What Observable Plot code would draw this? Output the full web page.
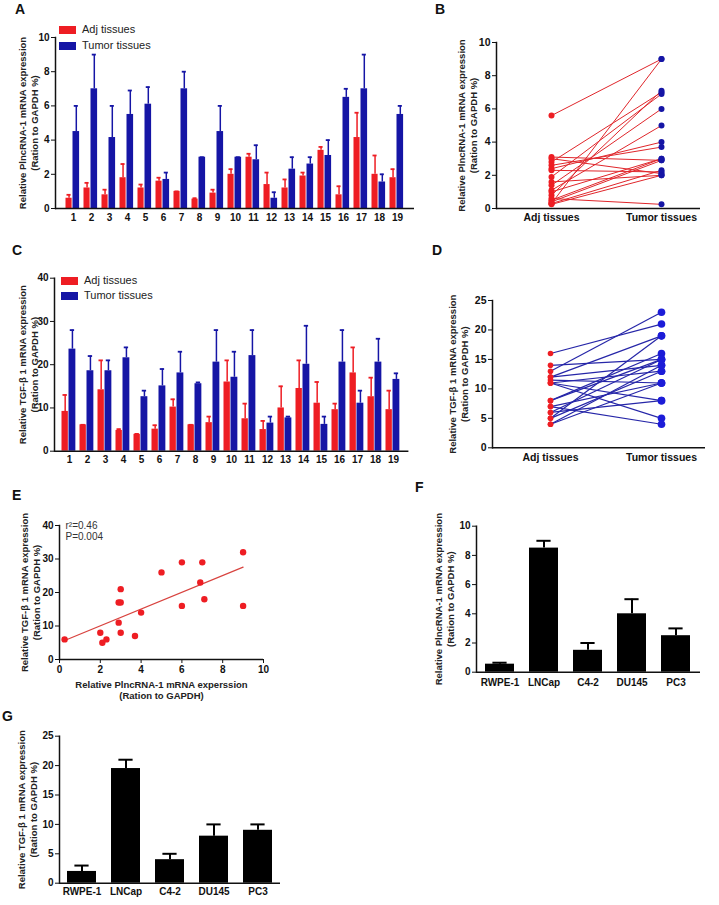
<!DOCTYPE html>
<html><head><meta charset="utf-8">
<script src="https://cdn.jsdelivr.net/npm/d3@7"></script>
<script src="https://cdn.jsdelivr.net/npm/@observablehq/plot@0.6"></script>
<style>
body{margin:0;background:#fff;}
#root{position:relative;width:719px;height:905px;overflow:hidden;background:#fff;font-family:'Liberation Sans',Arial,sans-serif;}
.panel{position:absolute;}
.panel svg{background:transparent;}
.letter{position:absolute;font-weight:bold;font-size:14px;line-height:14px;color:#111;}
.leg{position:absolute;font-size:11px;line-height:11px;white-space:nowrap;color:#222;}
.sw{position:absolute;width:17px;height:8px;}
</style></head><body><div id="root"></div>
<script>
// ---------- data ----------
const caseIds = ["1","2","3","4","5","6","7","8","9","10","11","12","13","14","15","16","17","18","19"];
const seriesNames = ["Adj tissues", "Tumor tissues"];

// Panel A: PlncRNA-1 per case
const plncAdj      = [0.6,1.2,0.8,1.8,1.2,1.6,1.0,0.55,0.9,2.0,3.0,1.4,1.2,1.9,3.4,0.8,4.15,2.0,1.8];
const plncAdjErr   = [0.2,0.3,0.3,0.8,0.2,0.2,0.0,0.05,0.2,0.3,0.2,0.7,0.5,0.2,0.2,0.5,1.45,1.1,0.5];
const plncTumor    = [4.5,7.0,4.15,5.5,6.1,1.7,7.0,3.0,4.5,3.0,2.85,0.6,2.3,2.6,3.1,6.5,7.0,1.55,5.5];
const plncTumorErr = [1.5,2.0,1.85,1.4,1.0,0.4,1.0,0.0,1.5,0.0,0.85,0.35,0.7,0.4,0.9,0.5,2.0,0.45,0.5];

// Panel B: paired PlncRNA-1
const pairPlncAdj   = [5.6,0.3,3.1,3.0,2.8,2.6,2.4,2.3,1.9,1.6,1.4,1.1,0.8,0.6,0.5,0.4,0.3,0.25,1.0];
const pairPlncTumor = [9.0,9.0,2.9,2.1,7.0,3.7,4.0,2.2,6.9,2.0,6.0,5.0,7.1,0.25,3.0,2.9,2.3,2.0,3.0];

// Panel C: TGF-beta1 per case
const tgfAdj      = [9.2,6.1,14.2,4.8,3.9,5.1,10.2,6.1,6.6,16.0,7.5,5.0,10.0,14.5,11.1,9.6,18.1,12.6,9.6];
const tgfAdjErr   = [3.8,0.0,6.8,0.3,0.1,0.9,1.8,0.0,1.4,5.0,3.5,2.0,5.0,6.5,4.9,1.4,5.9,4.4,4.4];
const tgfTumor    = [23.6,18.6,18.6,21.6,12.6,15.1,18.1,15.6,20.6,17.1,22.1,6.5,7.7,20.1,6.2,20.6,11.1,20.6,16.6];
const tgfTumorErr = [4.4,3.4,2.4,2.4,1.4,3.9,4.9,0.3,7.4,5.9,5.9,1.5,0.3,8.9,1.8,7.4,2.9,5.4,1.4];

// Panel D: paired TGF-beta1
const pairTgfAdj   = [16,14,13,12,12,11.5,11,11,11,8,8,7,7,6,6,5,5,4,4];
const pairTgfTumor = [21,15,23,14,19,11,8,5,13,16,15,11,4,15,8,19,13,14,11];

// Panel E: correlation
const corrPlnc = [0.25,2.0,2.1,2.3,2.9,2.9,3.0,3.0,3.0,3.7,4.0,5.0,6.0,6.0,6.9,7.0,7.1,9.0,9.0];
const corrTgf  = [6,8,5,6,11,17,17,21,8,7,14,26,29,16,23,29,18,32,16];
const corrStats = "r\u00b2=0.46\nP=0.004";

// Panels F, G: cell lines
const cellLines   = ["RWPE-1","LNCap","C4-2","DU145","PC3"];
const plncCell    = [0.55,8.5,1.5,4.0,2.5];
const plncCellErr = [0.1,0.5,0.5,1.0,0.5];
const tgfCell     = [2.0,19.5,4.0,8.0,9.0];
const tgfCellErr  = [1.0,1.5,1.0,2.0,1.0];

// tick labels
const ticksPlnc = [0,2,4,6,8,10];
const ticksTgf40 = [0,10,20,30,40];
const ticksTgf25 = [0,5,10,15,20,25];

// axis titles
const yLabPlnc = "Relative PlncRNA-1 mRNA expression\n(Ration to GAPDH %)";
const yLabTgf  = "Relative TGF-\u03b2 1 mRNA expression\n(Ration to GAPDH %)";
const xLabCorr = "Relative PlncRNA-1 mRNA experssion\n(Ration to GAPDH)";

// ---------- styling ----------
const RED = "#ee1d23", BLUE = "#1515a5", RED_LINE = "#e0262b", BLUE_LINE = "#2626a8", BLUE_DOT = "#1c1cd8";
const FONT = "'Liberation Sans', Arial, sans-serif";
const baseStyle = {fontFamily: FONT, fontSize: "10px", fontWeight: "bold", background: "transparent", overflow: "visible", color: "#111"};

const root = document.getElementById("root");
function place(el, left, top, w) {
  const d = document.createElement("div");
  d.className = "panel";
  d.style.left = left + "px"; d.style.top = top + "px"; d.style.width = w + "px";
  d.appendChild(el); root.appendChild(d);
}
function yTitle(text, dx) {
  return Plot.text([text], {text: d => d, frameAnchor: "left", textAnchor: "middle", rotate: -90, dx, lineAnchor: "middle",
    lineHeight: 1.25, fontSize: 9.5, fontWeight: "bold", fill: "#222"});
}

function pairedBars({adj, adjErr, tum, tumErr, yDomain, yTicks, width, height, mL, mR, mT, mB, step, label, ldx}) {
  const rows = caseIds.map((id, i) => ({id, adj: adj[i], adjTop: adj[i] + adjErr[i], tum: tum[i], tumTop: tum[i] + tumErr[i]}));
  return Plot.plot({
    width, height, marginLeft: mL, marginRight: mR, marginTop: mT, marginBottom: mB,
    style: baseStyle,
    x: {type: "band", domain: caseIds, padding: 0, tickSize: 0, tickPadding: 5, label: null},
    y: {domain: yDomain, ticks: yTicks, tickSize: 4, tickPadding: 2, label: null},
    marks: [
      Plot.ruleX(rows, {x: "id", y1: "adj", y2: "adjTop", dx: 5 - step / 2, stroke: RED, strokeWidth: 1.5}),
      Plot.tickY(rows, {x: "id", y: "adjTop", insetLeft: 2.5, insetRight: step - 7.5, stroke: RED, strokeWidth: 1.8}),
      Plot.ruleX(rows, {x: "id", y1: "tum", y2: "tumTop", dx: 12.25 - step / 2, stroke: BLUE, strokeWidth: 1.5}),
      Plot.tickY(rows, {x: "id", y: "tumTop", insetLeft: 9.75, insetRight: step - 14.75, stroke: BLUE, strokeWidth: 1.8}),
      Plot.barY(rows, {x: "id", y: "adj", insetLeft: 1.5, insetRight: step - 8.5, fill: RED}),
      Plot.barY(rows, {x: "id", y: "tum", insetLeft: 8.5, insetRight: step - 16, fill: BLUE}),
      Plot.frame({anchor: "left", strokeWidth: 1.5}),
      Plot.ruleY([0], {strokeWidth: 1.5}),
      yTitle(label, ldx)
    ]
  });
}

function pairedDots({adj, tum, yDomain, yTicks, width, height, mL, mR, mT, mB, xRange, lineColor, tumColor, rAdj, rTum, lw, label, ldx, pad}) {
  const rows = adj.map((a, i) => ({adj: a, tum: tum[i]}));
  return Plot.plot({
    width, height, marginLeft: mL, marginRight: mR, marginTop: mT, marginBottom: mB,
    style: {...baseStyle, fontSize: "10.5px"},
    x: {type: "point", domain: seriesNames, range: xRange, padding: 0, tickSize: 0, tickPadding: pad, label: null},
    y: {domain: yDomain, ticks: yTicks, tickSize: 4, tickPadding: 2, label: null},
    marks: [
      Plot.link(rows, {x1: () => seriesNames[0], y1: "adj", x2: () => seriesNames[1], y2: "tum", stroke: lineColor, strokeWidth: lw}),
      Plot.dot(rows, {x: () => seriesNames[0], y: "adj", r: rAdj, fill: RED}),
      Plot.dot(rows, {x: () => seriesNames[1], y: "tum", r: rTum, fill: tumColor}),
      Plot.frame({anchor: "left", strokeWidth: 1.5}),
      Plot.ruleY([0], {strokeWidth: 1.5}),
      yTitle(label, ldx)
    ]
  });
}

function cellBars({vals, errs, yDomain, yTicks, width, height, mL, mR, mT, mB, label, ldx, pad}) {
  const rows = cellLines.map((c, i) => ({c, v: vals[i], top: vals[i] + errs[i]}));
  return Plot.plot({
    width, height, marginLeft: mL, marginRight: mR, marginTop: mT, marginBottom: mB,
    style: baseStyle,
    x: {type: "band", domain: cellLines, paddingInner: 0.33, paddingOuter: 0.165, tickSize: 0, tickPadding: pad, label: null},
    y: {domain: yDomain, ticks: yTicks, tickSize: 4, tickPadding: 2, label: null},
    marks: [
      Plot.ruleX(rows, {x: "c", y1: "v", y2: "top", stroke: "#000", strokeWidth: 2}),
      Plot.tickY(rows, {x: "c", y: "top", inset: 7.4, stroke: "#000", strokeWidth: 2}),
      Plot.barY(rows, {x: "c", y: "v", fill: "#000"}),
      Plot.frame({anchor: "left", strokeWidth: 1.5}),
      Plot.ruleY([0], {strokeWidth: 1.5}),
      yTitle(label, ldx)
    ]
  });
}

// Panel A
place(pairedBars({adj: plncAdj, adjErr: plncAdjErr, tum: plncTumor, tumErr: plncTumorErr,
  yDomain: [0, 10], yTicks: ticksPlnc, width: 440, height: 230, mL: 55, mR: 26, mT: 37, mB: 22,
  step: 18.9, label: yLabPlnc, ldx: -27.7}), 0, 0, 440);

// Panel B
place(pairedDots({adj: pairPlncAdj, tum: pairPlncTumor, yDomain: [0, 10], yTicks: ticksPlnc,
  width: 279, height: 230, mL: 56, mR: 19, mT: 42, mB: 22, xRange: [110.7, 221.7],
  lineColor: RED_LINE, tumColor: BLUE, rAdj: 3, rTum: 3, lw: 1, label: yLabPlnc, ldx: -29.5, pad: 5}), 440, 0, 279);

// Panel C
place(pairedBars({adj: tgfAdj, adjErr: tgfAdjErr, tum: tgfTumor, tumErr: tgfTumorErr,
  yDomain: [0, 40], yTicks: ticksTgf40, width: 440, height: 245, mL: 54, mR: 31.6, mT: 47.7, mB: 24.3,
  step: 18.65, label: yLabTgf, ldx: -26.5}), 0, 230, 440);

// Panel D
place(pairedDots({adj: pairTgfAdj, tum: pairTgfTumor, yDomain: [0, 25], yTicks: ticksTgf25,
  width: 279, height: 245, mL: 52, mR: 14, mT: 70, mB: 27.7, xRange: [109.3, 221],
  lineColor: BLUE_LINE, tumColor: BLUE_DOT, rAdj: 2.8, rTum: 3.8, lw: 1.2, label: yLabTgf, ldx: -34, pad: 6}), 440, 230, 279);

// Panel E
{
  const pts = corrPlnc.map((x, i) => ({x, y: corrTgf[i]}));
  place(Plot.plot({
    width: 300, height: 230, marginLeft: 59, marginRight: 37, marginTop: 50, marginBottom: 46,
    style: baseStyle,
    x: {domain: [0, 10], ticks: ticksPlnc, tickSize: 4, tickPadding: 2, label: null},
    y: {domain: [0, 40], ticks: ticksTgf40, tickSize: 4, tickPadding: 2, label: null},
    marks: [
      Plot.linearRegressionY(pts, {x: "x", y: "y", stroke: "#d8433f", strokeWidth: 1.2, ci: 0}),
      Plot.dot(pts, {x: "x", y: "y", r: 3.2, fill: RED}),
      Plot.frame({anchor: "left", strokeWidth: 1.5}),
      Plot.ruleY([0], {strokeWidth: 1.5}),
      Plot.text([corrStats], {text: d => d, frameAnchor: "top-left", textAnchor: "start", dx: 6, dy: 5.5,
        lineAnchor: "middle", lineHeight: 1.1, fontSize: 10, fontWeight: "normal", fill: "#333"}),
      Plot.text([xLabCorr], {text: d => d, frameAnchor: "bottom", textAnchor: "middle", dy: 30.5, lineAnchor: "middle",
        lineHeight: 1.2, fontSize: 9.5, fontWeight: "bold", fill: "#222"}),
      yTitle(yLabTgf, -29)
    ]
  }), 0, 475, 300);
}

// Panel F
place(cellBars({vals: plncCell, errs: plncCellErr, yDomain: [0, 10], yTicks: ticksPlnc,
  width: 319, height: 230, mL: 76, mR: 19, mT: 50.7, mB: 33.3, label: yLabPlnc, ldx: -32, pad: 7}), 400, 475, 319);

// Panel G
place(cellBars({vals: tgfCell, errs: tgfCellErr, yDomain: [0, 25], yTicks: ticksTgf25,
  width: 300, height: 200, mL: 59, mR: 20, mT: 30.7, mB: 22.3, label: yLabTgf, ldx: -32.5, pad: 5}), 0, 705, 300);

// Legends (A and C)
function legend(x, yAdj, yTum) {
  [[RED, seriesNames[0], yAdj], [BLUE, seriesNames[1], yTum]].forEach(([c, t, y]) => {
    const s = document.createElement("div"); s.className = "sw";
    s.style.left = x + "px"; s.style.top = (y - 4) + "px"; s.style.background = c; root.appendChild(s);
    const l = document.createElement("div"); l.className = "leg"; l.textContent = t;
    l.style.left = (x + 23) + "px"; l.style.top = (y - 6) + "px"; root.appendChild(l);
  });
}
legend(59, 30, 45.7);
legend(61, 281, 296);

// Panel letters
[["A", 15, 2], ["B", 435, 1.5], ["C", 12, 243], ["D", 432, 243], ["E", 12, 488], ["F", 415, 480], ["G", 2, 709]].forEach(([t, x, y]) => {
  const d = document.createElement("div"); d.className = "letter"; d.textContent = t;
  d.style.left = x + "px"; d.style.top = y + "px"; root.appendChild(d);
});
</script></body></html>
